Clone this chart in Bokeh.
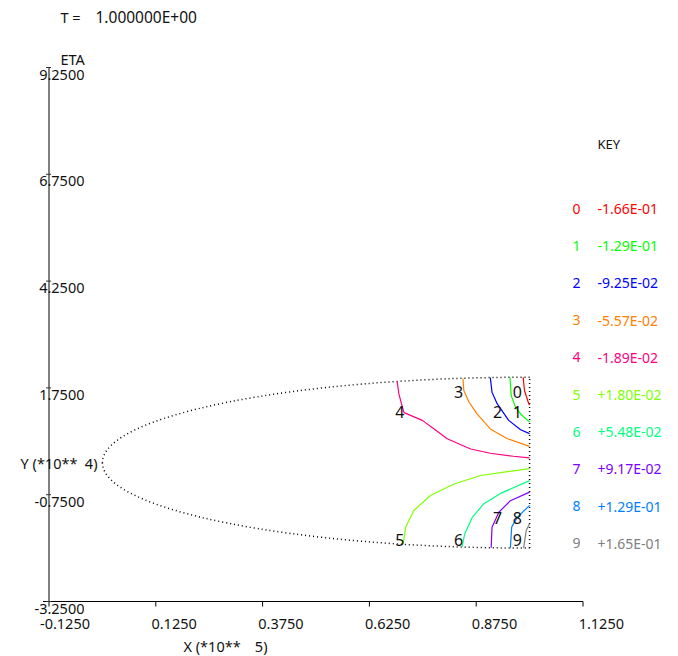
from bokeh.plotting import figure
from bokeh.models import Range1d, ColumnDataSource
from bokeh.embed import file_html
from bokeh.resources import INLINE
from bokeh.core.properties import value

# ---------------- data ----------------
x_ticks = [-0.125, 0.125, 0.375, 0.625, 0.875, 1.125]
x_tick_labels = ["-0.1250", "0.1250", "0.3750", "0.6250", "0.8750", "1.1250"]
y_ticks = [9.25, 6.75, 4.25, 1.75, -0.75, -3.25]
y_tick_labels = ["9.2500", "6.7500", "4.2500", "1.7500", "-0.7500", "-3.2500"]

levels = ["0", "1", "2", "3", "4", "5", "6", "7", "8", "9"]
level_values = ["-1.66E-01", "-1.29E-01", "-9.25E-02", "-5.57E-02", "-1.89E-02",
                "+1.80E-02", "+5.48E-02", "+9.17E-02", "+1.29E-01", "+1.65E-01"]
level_colors = ["#ff0000", "#00ff00", "#0000ff", "#ff8000", "#ff0080",
                "#80ff00", "#00ff80", "#8000ff", "#0080ff", "#808080"]

# domain: left half of an ellipse centred (1, 0), semi-axes 1 (x) and 2 (y), closed at x = 1
dom_cx, dom_cy, dom_a, dom_b = 1.0, 0.0, 1.0, 2.0

c0_x = [0.985, 0.988, 0.998, 1.000]
c0_y = [2.00, 1.69, 1.38, 1.35]
c1_x = [0.954, 0.957, 0.967, 0.979, 1.000]
c1_y = [2.00, 1.57, 1.30, 1.14, 0.95]
c2_x = [0.908, 0.912, 0.924, 0.951, 0.979, 1.000]
c2_y = [1.99, 1.65, 1.38, 0.99, 0.77, 0.68]
c3_x = [0.844, 0.846, 0.858, 0.877, 0.908, 0.948, 1.000]
c3_y = [1.97, 1.69, 1.42, 1.14, 0.79, 0.56, 0.38]
c4_x = [0.690, 0.694, 0.700, 0.706, 0.749, 0.775, 0.807, 0.862, 0.908, 0.962, 1.000]
c4_y = [1.90, 1.61, 1.38, 1.17, 0.99, 0.80, 0.56, 0.32, 0.22, 0.15, 0.11]
c5_x = [0.704, 0.710, 0.729, 0.768, 0.823, 0.885, 0.948, 1.000]
c5_y = [-1.91, -1.51, -1.12, -0.77, -0.50, -0.30, -0.21, -0.14]
c6_x = [0.842, 0.848, 0.866, 0.893, 0.932, 1.000]
c6_y = [-1.97, -1.67, -1.28, -0.96, -0.72, -0.42]
c7_x = [0.910, 0.912, 0.928, 0.955, 1.000]
c7_y = [-1.99, -1.51, -1.16, -0.89, -0.69]
c8_x = [0.955, 0.958, 0.971, 1.000]
c8_y = [-2.00, -1.51, -1.28, -1.00]
c9_x = [0.986, 0.992, 1.000]
c9_y = [-2.00, -1.59, -1.43]

contours_x = [c0_x, c1_x, c2_x, c3_x, c4_x, c5_x, c6_x, c7_x, c8_x, c9_x]
contours_y = [c0_y, c1_y, c2_y, c3_y, c4_y, c5_y, c6_y, c7_y, c8_y, c9_y]

label_x = [0.971, 0.971, 0.925, 0.834, 0.696, 0.696, 0.834, 0.925, 0.971, 0.971]
label_y = [1.65, 1.18, 1.18, 1.65, 1.18, -1.82, -1.82, -1.30, -1.30, -1.82]

# ---------------- layout ----------------
FONT = value("Noto Sans")
FS = value("14.5px")
INK = "#111111"

W, H = 672, 656
PX_PER_X = 427.2          # pixels per x unit
PX_PER_Y = 42.72          # pixels per y unit
X0_PX, Y0_PX = 48.5, 67.0  # page pixel of (x_ticks[0], y_ticks[0])

def sx(px):
    return x_ticks[0] + (px - X0_PX) / PX_PER_X

def sy(py):
    return y_ticks[0] - (py - Y0_PX) / PX_PER_Y

dy = 1.0 / PX_PER_Y
dx = 1.0 / PX_PER_X

p = figure(width=W, height=H, min_border=0,
           x_range=Range1d(sx(0), sx(W)), y_range=Range1d(sy(H), sy(0)),
           x_axis_location=None, y_axis_location=None,
           output_backend="svg", toolbar_location=None)
p.outline_line_color = None
p.grid.visible = False
p.background_fill_color = "white"
p.border_fill_color = "white"

xmin, xmax = x_ticks[0], x_ticks[-1]
ymin, ymax = y_ticks[-1], y_ticks[0]

def txt(x, y, s, align="left", size=FS, color=INK):
    p.text(x=[x], y=[y], text=[s], text_align=align, text_baseline="middle",
           text_font=FONT, text_font_size=size, text_color=color)

# ---- axes ----
p.segment(x0=[xmin], y0=[ymin], x1=[xmin], y1=[ymax], line_color="#808080", line_width=2)
p.segment(x0=[xmin - 6 * dx], y0=[ymin], x1=[xmax], y1=[ymin], line_color="black", line_width=1)
p.segment(x0=x_ticks, y0=[ymin] * len(x_ticks), x1=x_ticks, y1=[ymin - 5 * dy] * len(x_ticks),
          line_color="black", line_width=1)
p.segment(x0=[xmin - 3 * dx] * len(y_ticks), y0=y_ticks, x1=[xmin + 2 * dx] * len(y_ticks), y1=y_ticks,
          line_color="#333333", line_width=1)

p.text(x=x_ticks, y=[ymin] * len(x_ticks), text=x_tick_labels, x_offset=41, y_offset=22,
       text_align="right", text_baseline="middle", text_font=FONT, text_font_size=FS, text_color=INK)
p.text(x=[xmin] * len(y_ticks), y=y_ticks, text=y_tick_labels, x_offset=35.5, y_offset=7,
       text_align="right", text_baseline="middle", text_font=FONT, text_font_size=FS, text_color=INK)

# ---- domain boundary (dotted): two quarter-ellipse Bezier arcs + closing line ----
k = 0.5523
p.bezier(x0=[dom_cx, dom_cx - dom_a], y0=[dom_cy + dom_b, dom_cy],
         x1=[dom_cx - dom_a, dom_cx], y1=[dom_cy, dom_cy - dom_b],
         cx0=[dom_cx - k * dom_a, dom_cx - dom_a], cy0=[dom_cy + dom_b, dom_cy - k * dom_b],
         cx1=[dom_cx - dom_a, dom_cx - k * dom_a], cy1=[dom_cy + k * dom_b, dom_cy - dom_b],
         line_color="black", line_dash="1 3", line_width=1.5)
p.segment(x0=[dom_cx], y0=[dom_cy - dom_b], x1=[dom_cx], y1=[dom_cy + dom_b],
          line_color="black", line_dash="1 3", line_width=1.5)

# ---- contour lines ----
for cx, cy, col in zip(contours_x, contours_y, level_colors):
    p.line(cx, cy, line_color=col, line_width=1.2)

p.text(x=label_x, y=label_y, text=levels, text_align="center", text_baseline="middle",
       text_font=FONT, text_font_size=value("16px"), text_color=INK)

# ---- titles (double spaces kept by placing the parts separately) ----
txt(sx(60), sy(16), "T =")
txt(sx(95), sy(16), "1.000000E+00", size=value("15.5px"))
txt(sx(60), sy(58), "ETA")
txt(sx(77), 0.0, "Y (*10**", align="right")
txt(sx(97), 0.0, "4)", align="right")
txt(sx(183), sy(645), "X (*10**")
txt(sx(267), sy(645), "5)", align="right")

# ---- key ----
txt(sx(597), sy(143), "KEY", size=value("13px"))
key_src = ColumnDataSource(dict(
    xn=[sx(576)] * len(levels), xv=[sx(597)] * len(levels),
    y=[sy(208 + 37.2 * i) for i in range(len(levels))],
    lev=levels, val=level_values, col=level_colors))
p.text(x="xn", y="y", text="lev", source=key_src, text_align="center", text_baseline="middle",
       text_font=FONT, text_font_size=value("14px"), text_color="col")
p.text(x="xv", y="y", text="val", source=key_src, text_align="left", text_baseline="middle",
       text_font=FONT, text_font_size=value("14px"), text_color="col")

open("out.html", "w").write(file_html(p, INLINE))
